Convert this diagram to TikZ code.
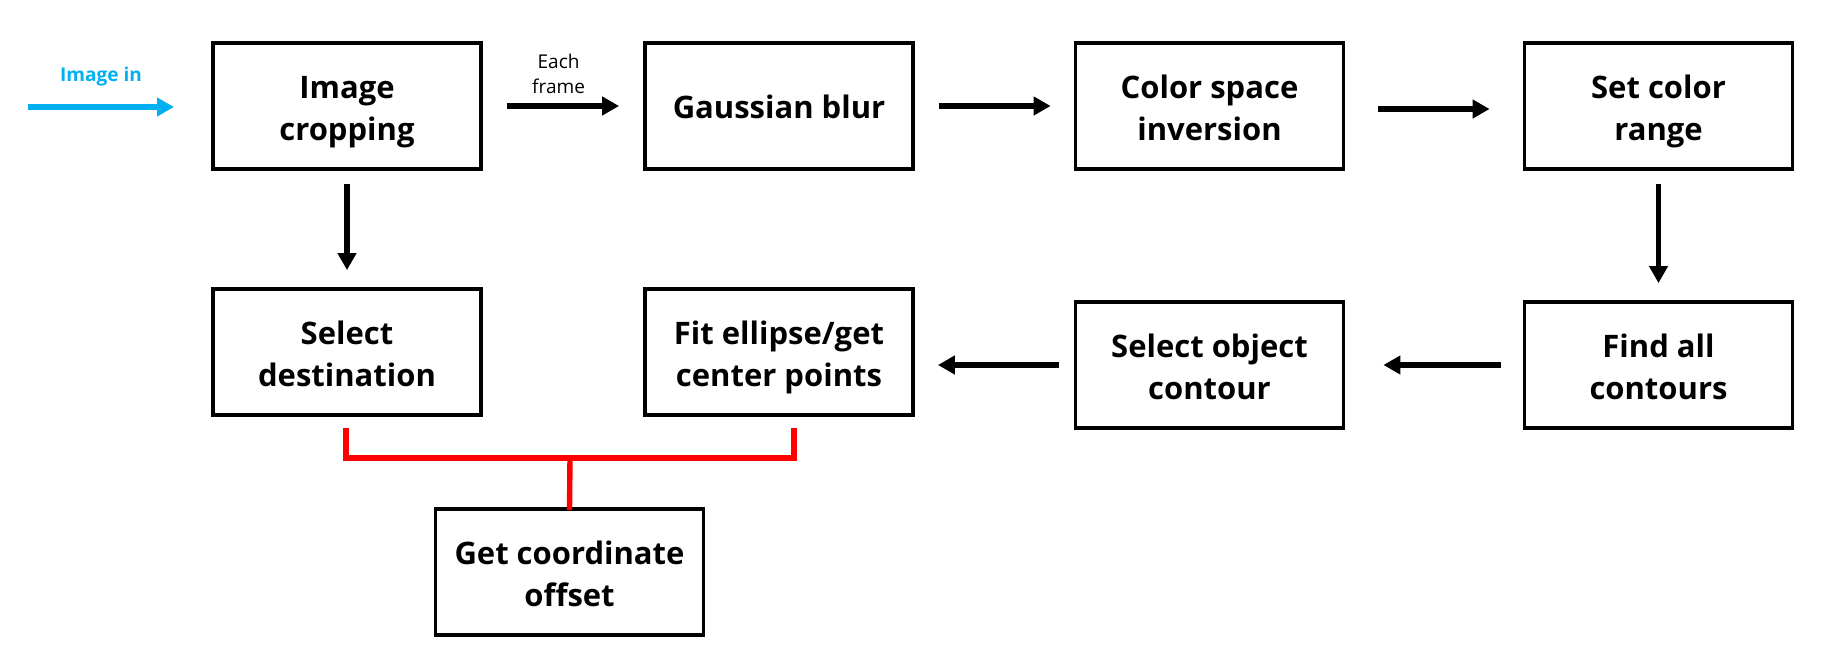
\documentclass[tikz,border=0pt]{standalone}
\usepackage{fontspec}
\setmainfont{Open Sans}
\usetikzlibrary{arrows.meta}
\definecolor{inblue}{RGB}{0,176,240}
\tikzset{every picture/.style={line width=0.75pt}}
\tikzset{
  procbox/.style={draw, line width=1.9pt, minimum width=134pt, minimum height=63pt,
    align=center, inner sep=0pt, text height=36.5pt, text depth=2.5pt,
    font=\bfseries\fontsize{15.5}{20.6}\selectfont},
  oneline/.style={text height=14.5pt, text depth=2.5pt},
  flowarrow/.style={line width=2.9pt, -{Triangle[length=8.5pt,width=9pt]}},
  redline/.style={draw=red, line width=2.7pt}
}

\begin{document}
\begin{tikzpicture}[x=0.5pt,y=0.5pt,yscale=-1,xscale=1]
\useasboundingbox (0,0) rectangle (1844,664);

%Shape: Rectangle [top row]
\node[procbox] (crop) at (347,106) {Image\\cropping};
\node[procbox, oneline] (blur) at (779,106) {Gaussian blur};
\node[procbox] (inv) at (1209.5,106) {Color space\\inversion};
\node[procbox] (range) at (1658.5,106) {Set color\\range};
%Shape: Rectangle [bottom row]
\node[procbox] (dest) at (347,352) {Select\\destination};
\node[procbox] (fit) at (779,352) {Fit ellipse/get\\center points};
\node[procbox] (obj) at (1209.5,365) {Select object\\contour};
\node[procbox] (contours) at (1658.5,365) {Find all\\contours};
\node[procbox] (offset) at (569.5,572) {Get coordinate\\offset};

%Straight Lines [input]
\coordinate (src) at (28,107);
\coordinate (srcend) at (174,107);
\draw[flowarrow, draw=inblue, color=inblue] (src) -- (srcend);
% Text Node
\node[text=inblue, font=\bfseries\fontsize{9.5}{12}\selectfont] (inlabel) at (101,77) {Image in};

%Straight Lines [top row]
\draw[flowarrow, shorten <=12pt, shorten >=12pt] (crop.east) -- (blur.west);
\draw[flowarrow, shorten <=12pt, shorten >=11.5pt] (blur.east) -- (inv.west);
\draw[flowarrow, shorten <=16.5pt, shorten >=16.5pt] ([yshift=1.5pt]inv.east) -- ([yshift=1.5pt]range.west);
% Text Node
\node[align=center, font=\fontsize{9.5}{12.4}\selectfont] (eachlabel) at (558.6,73.5) {Each\\frame};

%Straight Lines [down]
\draw[flowarrow, shorten <=6.5pt, shorten >=8.5pt] (crop.south) -- (dest.north);
\draw[flowarrow, shorten <=6.5pt, shorten >=8.5pt] (range.south) -- (contours.north);

%Straight Lines [bottom row]
\draw[flowarrow, shorten <=11pt, shorten >=19pt] (contours.west) -- (obj.east);
\draw[flowarrow, shorten <=7.5pt, shorten >=11.5pt] (obj.west) -- (fit.east |- obj.west);

%Straight Lines [red join]
\coordinate (legl) at (346,428);
\coordinate (legr) at (794,428);
\coordinate (joint) at (570,458);
\draw[redline] (legl) |- (joint) -| (legr);
\draw[redline] (joint) -- ([yshift=1.5pt]offset.north);

\end{tikzpicture}
\end{document}
